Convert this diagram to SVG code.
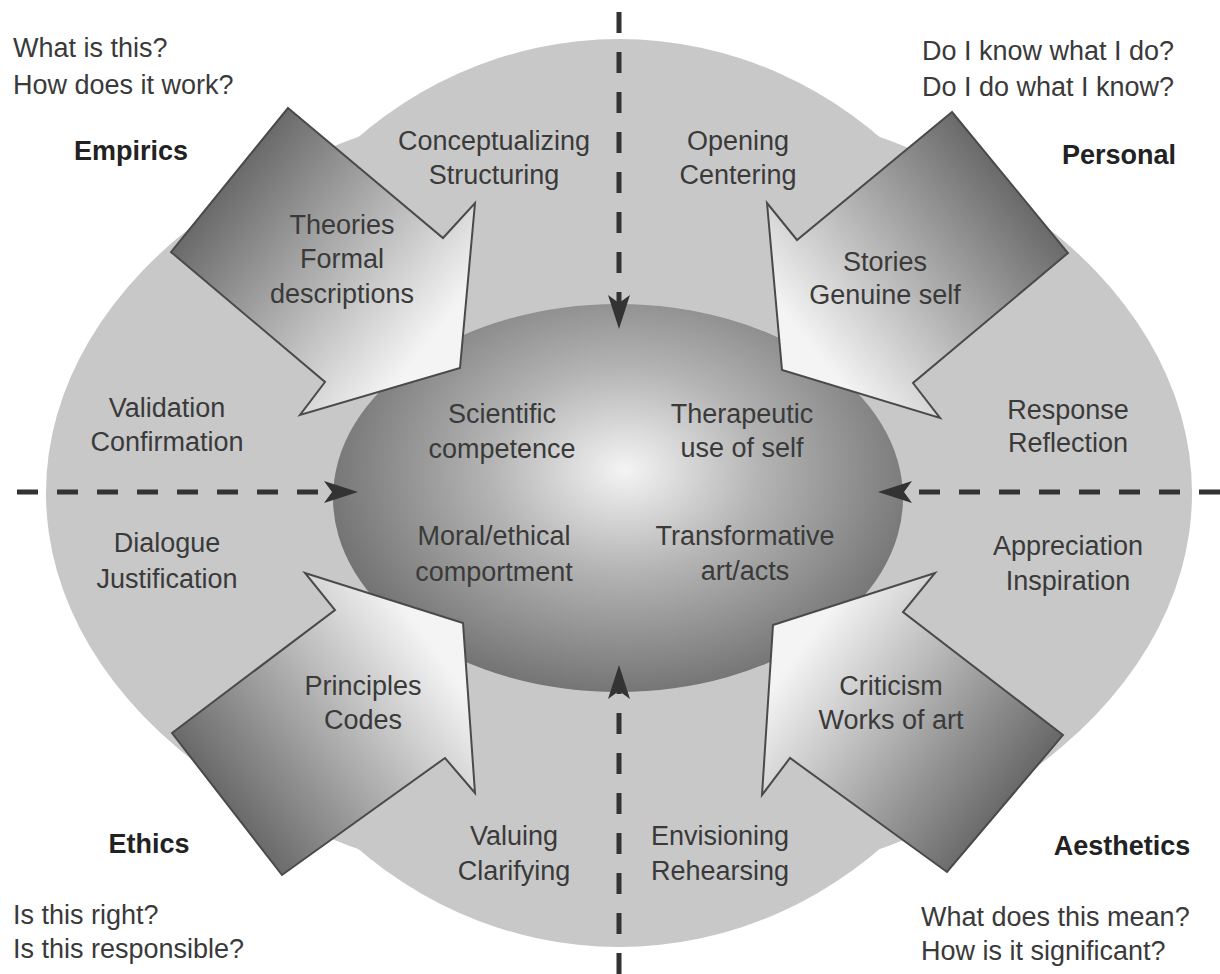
<svg xmlns="http://www.w3.org/2000/svg" width="1220" height="974" viewBox="0 0 1220 974">
<style>
text{font-family:"Liberation Sans",Arial,sans-serif;font-size:27px;fill:#3a3a3a}
.c{text-anchor:middle}
.b{font-weight:bold;fill:#222;font-size:27px}
.arrow{stroke:#4a4a4a;stroke-width:2;stroke-linejoin:miter}
.dash{stroke:#333;stroke-width:5;stroke-dasharray:21 19;fill:none}
</style>
<defs>
<radialGradient id="coreG" cx="625" cy="470" r="300" gradientUnits="userSpaceOnUse" gradientTransform="translate(625 470) scale(1 0.75) translate(-625 -470)">
<stop offset="0" stop-color="#f4f4f4"/>
<stop offset="0.45" stop-color="#b4b4b4"/>
<stop offset="1" stop-color="#747474"/>
</radialGradient>
<linearGradient id="gE" gradientUnits="userSpaceOnUse" x1="229" y1="180" x2="430" y2="340">
<stop offset="0" stop-color="#6a6a6a"/><stop offset="1" stop-color="#f4f4f4"/></linearGradient>
<linearGradient id="gP" gradientUnits="userSpaceOnUse" x1="1010" y1="182" x2="810" y2="345">
<stop offset="0" stop-color="#6a6a6a"/><stop offset="1" stop-color="#f4f4f4"/></linearGradient>
<linearGradient id="gEt" gradientUnits="userSpaceOnUse" x1="227" y1="804" x2="435" y2="650">
<stop offset="0" stop-color="#6a6a6a"/><stop offset="1" stop-color="#f4f4f4"/></linearGradient>
<linearGradient id="gA" gradientUnits="userSpaceOnUse" x1="1005" y1="803" x2="800" y2="650">
<stop offset="0" stop-color="#6a6a6a"/><stop offset="1" stop-color="#f4f4f4"/></linearGradient>
<marker id="ah" markerUnits="userSpaceOnUse" markerWidth="34" markerHeight="22" viewBox="0 0 34 22" refX="8" refY="11" orient="auto">
<path d="M34,11 L0,0 L8,11 L0,22 Z" fill="#333"/>
</marker>
</defs>
<rect width="1220" height="974" fill="#fff"/>

<g id="outer-field" fill="#c8c8c8">
<ellipse cx="619" cy="493" rx="420" ry="454"/>
<ellipse cx="619" cy="493" rx="573" ry="400"/>
</g>

<g id="core">
<ellipse cx="618" cy="498" rx="285" ry="194" fill="url(#coreG)"/>
</g>

<g id="arrow-empirics">
<polygon class="arrow" fill="url(#gE)" points="288,108 443,238 475,203 460,368 300,415 325,382 171,252"/>
<text class="c" x="342" y="234">Theories</text>
<text class="c" x="342" y="268">Formal</text>
<text class="c" x="342" y="303">descriptions</text>
</g>
<g id="arrow-personal">
<polygon class="arrow" fill="url(#gP)" points="952,112 797,240 767,203 782,370 940,418 913,383 1068,253"/>
<text class="c" x="885" y="271">Stories</text>
<text class="c" x="885" y="304">Genuine self</text>
</g>
<g id="arrow-ethics">
<polygon class="arrow" fill="url(#gEt)" points="172,733 335,610 305,573 463,623 475,793 445,758 282,875"/>
<text class="c" x="363" y="695">Principles</text>
<text class="c" x="363" y="729">Codes</text>
</g>
<g id="arrow-aesthetics">
<polygon class="arrow" fill="url(#gA)" points="1063,735 903,612 935,573 773,625 762,795 790,758 947,872"/>
<text class="c" x="891" y="695">Criticism</text>
<text class="c" x="891" y="729">Works of art</text>
</g>

<g id="connectors">
<line class="dash" x1="619" y1="12" x2="619" y2="303" marker-end="url(#ah)"/>
<line class="dash" x1="619" y1="974" x2="619" y2="691" marker-end="url(#ah)"/>
<line class="dash" x1="17" y1="492" x2="332" y2="492" marker-end="url(#ah)"/>
<line class="dash" x1="1220" y1="492" x2="904" y2="492" marker-end="url(#ah)"/>
</g>

<g id="core-labels">
<text class="c" x="502" y="423">Scientific</text>
<text class="c" x="502" y="458">competence</text>
<text class="c" x="742" y="423">Therapeutic</text>
<text class="c" x="742" y="457">use of self</text>
<text class="c" x="494" y="545">Moral/ethical</text>
<text class="c" x="494" y="581">comportment</text>
<text class="c" x="745" y="545">Transformative</text>
<text class="c" x="745" y="580">art/acts</text>
</g>

<g id="field-labels">
<text class="c" x="494" y="150">Conceptualizing</text>
<text class="c" x="494" y="184">Structuring</text>
<text class="c" x="738" y="150">Opening</text>
<text class="c" x="738" y="184">Centering</text>
<text class="c" x="167" y="417">Validation</text>
<text class="c" x="167" y="451">Confirmation</text>
<text class="c" x="1068" y="419">Response</text>
<text class="c" x="1068" y="452">Reflection</text>
<text class="c" x="167" y="552">Dialogue</text>
<text class="c" x="167" y="588">Justification</text>
<text class="c" x="1068" y="555">Appreciation</text>
<text class="c" x="1068" y="590">Inspiration</text>
<text class="c" x="514" y="845">Valuing</text>
<text class="c" x="514" y="880">Clarifying</text>
<text class="c" x="720" y="845">Envisioning</text>
<text class="c" x="720" y="880">Rehearsing</text>
</g>

<g id="empirics">
<text x="13" y="57">What is this?</text>
<text x="13" y="94">How does it work?</text>
<text class="b c" x="131" y="160">Empirics</text>
</g>
<g id="personal">
<text x="922" y="60">Do I know what I do?</text>
<text x="922" y="96">Do I do what I know?</text>
<text class="b c" x="1119" y="164">Personal</text>
</g>
<g id="ethics">
<text class="b c" x="149" y="853">Ethics</text>
<text x="13" y="924">Is this right?</text>
<text x="13" y="958">Is this responsible?</text>
</g>
<g id="aesthetics">
<text class="b c" x="1122" y="855">Aesthetics</text>
<text x="921" y="926">What does this mean?</text>
<text x="921" y="960">How is it significant?</text>
</g>
</svg>
